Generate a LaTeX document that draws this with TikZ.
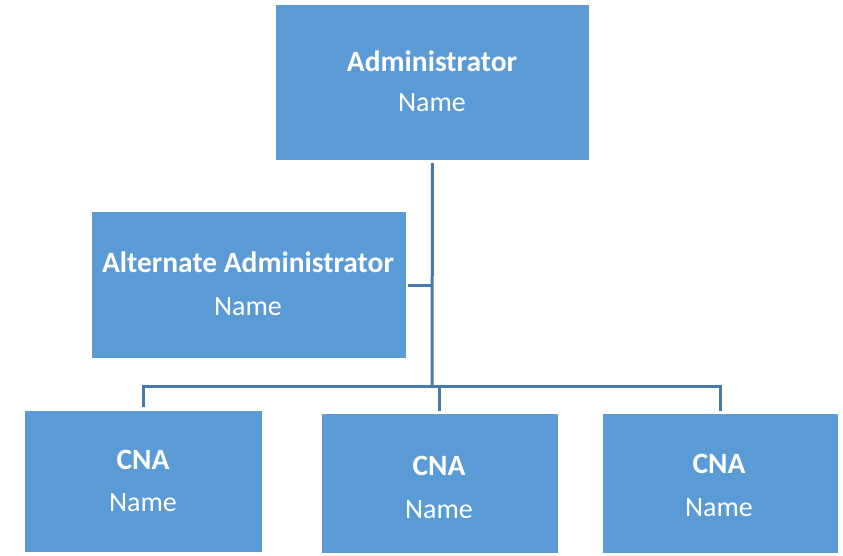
\documentclass[tikz,border=0pt]{standalone}
\usepackage{fontspec}
\setmainfont{Carlito}
\definecolor{boxblue}{RGB}{91,155,213}
\definecolor{linkblue}{RGB}{70,122,170}
\begin{document}
\begin{tikzpicture}[x=1pt,y=-1pt,
  orgbox/.style={rectangle, fill=boxblue, draw=none, inner sep=0pt},
  title/.style={text=white, font=\fontsize{29.5}{34}\selectfont\bfseries, inner sep=0pt},
  person/.style={text=white, font=\fontsize{28}{33}\selectfont, inner sep=0pt},
  link/.style={draw=linkblue, line width=3pt}]
\useasboundingbox (0,0) rectangle (843,556);

% boxes
\node[orgbox, minimum width=313pt, minimum height=155pt] (admin) at (432.5,82.5) {};
\node[orgbox, minimum width=314pt, minimum height=146pt] (alt) at (249,285) {};
\node[orgbox, minimum width=237pt, minimum height=141pt] (cna1) at (143.5,481) {};
\node[orgbox, minimum width=236pt, minimum height=139pt] (cna2) at (439.5,483.5) {};
\node[orgbox, minimum width=235pt, minimum height=139pt] (cna3) at (720,483.5) {};

% labels
\node[title]  (adminT) at (432,61) {Administrator};
\node[person] (adminN) at (432,103) {Name};
\node[title]  (altT) at (248,262) {Alternate Administrator};
\node[person] (altN) at (248,307) {Name};
\node[title]  (cna1T) at (143,460) {CNA};
\node[person] (cna1N) at (143,503) {Name};
\node[title]  (cna2T) at (439,466) {CNA};
\node[person] (cna2N) at (439,510) {Name};
\node[title]  (cna3T) at (719,464) {CNA};
\node[person] (cna3N) at (719,508) {Name};

% connectors
\coordinate (bus) at (432,386);
\draw[link, shorten <=3pt] (admin.south) -- (bus);
\draw[link, shorten <=2pt] (alt.east) -- (alt.east -| bus);
\draw[link, shorten <=3pt, shorten >=3pt] (cna1.north) |- (bus) -| (cna3.north);
\draw[link, shorten <=3pt] (cna2.north) -- (cna2.north |- bus);
\end{tikzpicture}
\end{document}
